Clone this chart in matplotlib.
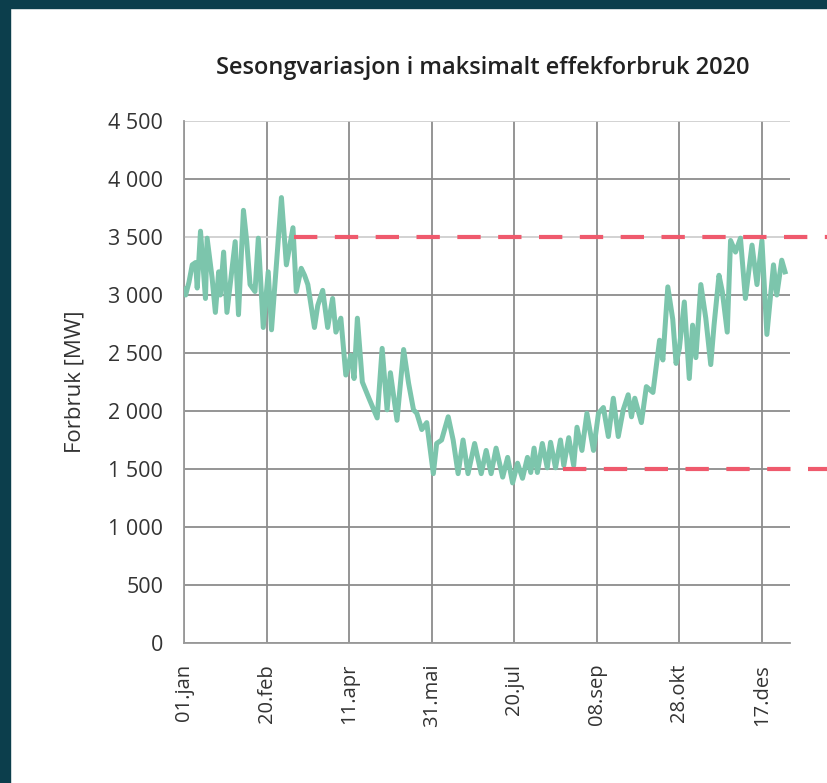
import numpy as np
import matplotlib.pyplot as plt
from matplotlib.patches import Rectangle
from matplotlib.ticker import FuncFormatter

# daily max load (day of year, MW)
days = [0, 1, 3, 5, 7, 8, 10, 13, 14, 17, 19, 21, 22, 24, 26, 31, 33, 36, 38, 40,
        43, 45, 48, 51, 53, 59, 62, 66, 68, 71, 73, 75, 79, 81, 84, 87, 90, 92, 95,
        98, 101, 103, 105, 108, 112, 117, 120, 123, 125, 129, 133, 136, 139, 141,
        144, 147, 151, 153, 156, 160, 163, 166, 169, 172, 176, 180, 183, 186, 189,
        193, 196, 199, 202, 205, 208, 210, 212, 214, 217, 220, 222, 225, 228, 230,
        233, 236, 238, 241, 244, 248, 251, 254, 257, 260, 263, 266, 269, 271, 273,
        277, 280, 284, 288, 290, 293, 296, 298, 300, 303, 306, 308, 310, 313, 316,
        319, 321, 324, 326, 329, 331, 334, 337, 340, 344, 347, 350, 353, 357, 359,
        362, 364]
load = [3050, 3000, 3110, 3260, 3280, 3060, 3550, 2970, 3490, 3150, 2850, 3200,
        3000, 3370, 2850, 3460, 2830, 3730, 3460, 3090, 3030, 3490, 2720, 3200,
        2700, 3840, 3260, 3580, 3030, 3230, 3170, 3090, 2720, 2910, 3040, 2720,
        2970, 2680, 2800, 2310, 2480, 2280, 2800, 2250, 2110, 1940, 2540, 2010,
        2330, 1920, 2530, 2240, 2010, 1980, 1840, 1900, 1460, 1720, 1750, 1950,
        1750, 1460, 1750, 1460, 1720, 1460, 1660, 1460, 1680, 1430, 1600, 1380,
        1550, 1420, 1600, 1470, 1680, 1470, 1720, 1510, 1730, 1510, 1750, 1530,
        1770, 1530, 1860, 1660, 1980, 1660, 1980, 2030, 1780, 2110, 1780, 2010,
        2140, 1950, 2110, 1900, 2210, 2160, 2610, 2440, 3070, 2790, 2410, 2540,
        2940, 2280, 2740, 2460, 3090, 2800, 2400, 2740, 3170, 3030, 2680, 3470,
        3370, 3490, 2970, 3430, 3090, 3470, 2660, 3260, 3000, 3300, 3200]

tick_days = [0, 50, 100, 150, 200, 250, 300, 350]
tick_labels = ['01.jan', '20.feb', '11.apr', '31.mai', '20.jul', '08.sep', '28.okt', '17.des']

high_level = 3500
high_start = 66.6
low_level = 1500
low_start = 229.5
line_end = 392

plt.rcParams['font.family'] = ['Open Sans', 'DejaVu Sans']

fig = plt.figure(figsize=(8.28, 7.83), dpi=100)
fig.patches.append(Rectangle((0, 1 - 8 / 783), 1, 8 / 783, transform=fig.transFigure,
                             color='#0c3e4c', zorder=0))
fig.patches.append(Rectangle((0, 0), 10 / 828, 1, transform=fig.transFigure,
                             color='#0c3e4c', zorder=0))

ax = fig.add_axes([184 / 828, 140 / 783, 606 / 828, 522 / 783])
ax.plot(days, load, color='#7cc5ac', lw=3.6, solid_joinstyle='round', zorder=3)

ax.plot([high_start, line_end], [high_level, high_level], color='#ef5a6d', lw=3,
        dashes=(5.6, 4.2), clip_on=False, zorder=4)
ax.plot([low_start, line_end], [low_level, low_level], color='#ef5a6d', lw=3,
        dashes=(5.6, 4.2), clip_on=False, zorder=4)

ax.set_xlim(0, 367)
ax.set_ylim(0, 4500)
ax.set_xticks(tick_days)
ax.set_xticklabels(tick_labels, rotation=90, fontsize=14.5, color='#333333')
ax.set_yticks(np.arange(0, 4501, 500))
ax.yaxis.set_major_formatter(FuncFormatter(lambda v, p: f"{int(v):,}".replace(',', ' ')))
ax.tick_params(axis='y', length=0, pad=15, labelsize=15.5, labelcolor='#333333')
ax.tick_params(axis='x', length=0, pad=15)

ax.grid(True, color='#8c8c8c', lw=1.3)
for v, gl in zip(ax.get_yticks(), ax.get_ygridlines()):
    if v in (3500, 4500):
        gl.set_color('#cfcfcf')
ax.set_axisbelow(True)
for s in ['top', 'right']:
    ax.spines[s].set_visible(False)
for s in ['left', 'bottom']:
    ax.spines[s].set_color('#999999')
    ax.spines[s].set_linewidth(1.3)

ax.set_ylabel('Forbruk [MW]', fontsize=16, color='#333333', labelpad=16)
fig.text(0.583, 1 - 68 / 783, 'Sesongvariasjon i maksimalt effekforbruk 2020',
         ha='center', va='center', fontsize=17, fontweight='semibold', color='#222222')

fig.savefig('out.png', dpi=100, facecolor='white')
